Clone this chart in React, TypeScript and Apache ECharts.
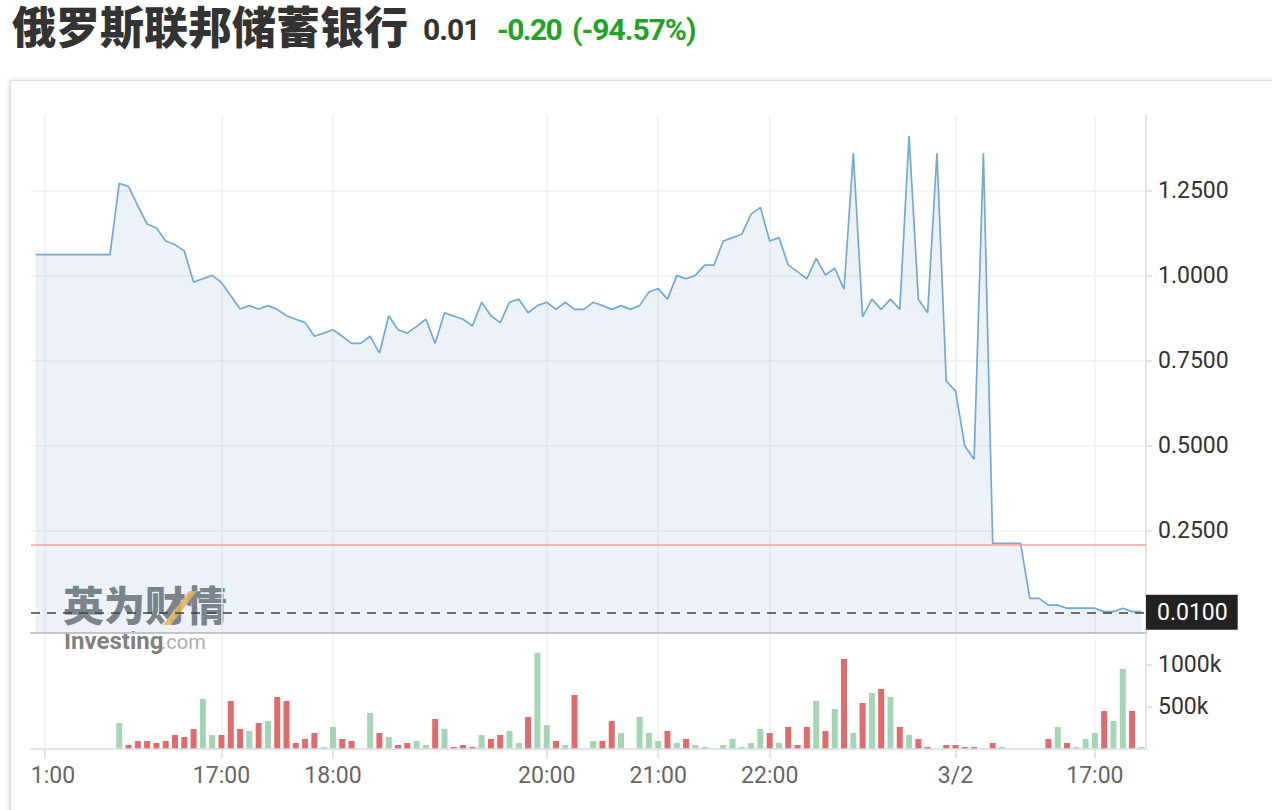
import React, { useEffect, useRef } from "react";
import * as echarts from "echarts";

// ---------- data ----------
const priceValues = [
  1.062, 1.062, 1.062, 1.062, 1.062, 1.062, 1.062, 1.062, 1.062, 1.272,
  1.262, 1.205, 1.152, 1.14, 1.102, 1.091, 1.073, 0.981, 0.991, 1.001,
  0.98, 0.941, 0.902, 0.912, 0.902, 0.912, 0.901, 0.882, 0.872, 0.862,
  0.822, 0.831, 0.841, 0.822, 0.801, 0.801, 0.822, 0.772, 0.882, 0.841,
  0.831, 0.851, 0.872, 0.801, 0.891, 0.881, 0.872, 0.852, 0.922, 0.882,
  0.862, 0.922, 0.931, 0.891, 0.912, 0.922, 0.901, 0.922, 0.901, 0.901,
  0.922, 0.912, 0.901, 0.912, 0.901, 0.912, 0.952, 0.962, 0.931, 1.001,
  0.991, 1.001, 1.031, 1.031, 1.102, 1.112, 1.122, 1.181, 1.201, 1.102,
  1.112, 1.031, 1.012, 0.991, 1.051, 1.002, 1.022, 0.96, 1.36, 0.879,
  0.931, 0.901, 0.931, 0.901, 1.411, 0.931, 0.891, 1.36, 0.69, 0.661,
  0.499, 0.46, 1.36, 0.213, 0.213, 0.213, 0.213, 0.051, 0.051, 0.031,
  0.031, 0.022, 0.022, 0.022, 0.022, 0.012, 0.012, 0.022, 0.012, 0.012,
];

const volumeValues = [
  0, 0, 0, 0, 0, 0, 0, 0, 0, 301000,
  39000, 87000, 87000, 63000, 87000, 158000, 135000, 230000, 587000, 158000,
  158000, 563000, 230000, 206000, 301000, 325000, 611000, 563000, 63000, 111000,
  182000, 15000, 254000, 111000, 87000, 0, 420000, 182000, 135000, 39000,
  63000, 87000, 39000, 349000, 230000, 15000, 39000, 15000, 158000, 111000,
  158000, 206000, 63000, 373000, 1134000, 277000, 87000, 39000, 635000, 0,
  87000, 87000, 325000, 182000, 0, 373000, 182000, 87000, 206000, 63000,
  111000, 39000, 15000, 0, 39000, 111000, 15000, 63000, 230000, 182000,
  63000, 254000, 39000, 254000, 563000, 206000, 468000, 1063000, 182000, 539000,
  658000, 706000, 611000, 254000, 158000, 111000, 15000, 0, 39000, 39000,
  15000, 15000, 0, 63000, 15000, 0, 0, 0, 0, 111000,
  254000, 63000, 15000, 111000, 182000, 444000, 325000, 944000, 444000, 15000,
];

// 1 = up (green), 0 = down (red)
const volumeUp = [
  0, 0, 0, 0, 0, 0, 0, 0, 0, 1,
  0, 0, 0, 0, 0, 0, 0, 0, 1, 1,
  0, 0, 0, 1, 0, 1, 0, 0, 0, 0,
  0, 1, 1, 0, 0, 0, 1, 0, 1, 0,
  0, 1, 1, 0, 1, 0, 0, 0, 1, 0,
  0, 1, 1, 0, 1, 1, 0, 1, 0, 0,
  1, 0, 0, 1, 0, 1, 1, 1, 0, 1,
  0, 1, 1, 0, 1, 1, 1, 1, 1, 0,
  1, 0, 0, 0, 1, 0, 1, 0, 1, 0,
  1, 0, 1, 0, 1, 0, 0, 0, 0, 0,
  0, 0, 0, 0, 1, 0, 0, 0, 0, 0,
  1, 0, 1, 1, 1, 0, 1, 1, 0, 1,
];

const categories = priceValues.map((_, i) => String(i));

const tickIndex = [1, 20, 32, 55, 67, 79, 99, 114];
const tickText = ["1:00", "17:00", "18:00", "20:00", "21:00", "22:00", "3/2", "17:00"];

const prevClose = 0.2118;
const lastPrice = 0.0115;
const lastPriceLabel = "0.0100";

const titleName = "俄罗斯联邦储蓄银行";
const titlePrice = "0.01";
const titleChange = "-0.20";
const titlePct = "(-94.57%)";

const watermarkCn = "英为财情";
const watermarkEn = "Investing";
const watermarkCom = ".com";

// ---------- component ----------
const FONT = "Roboto, 'Noto Sans', sans-serif";
const GREEN_BAR = "#a6d5b6";
const RED_BAR = "#df6c6c";
const GREEN_TXT = "#22a327";

export default function App() {
  const ref = useRef<HTMLDivElement>(null);

  useEffect(() => {
    document.body.style.margin = "0";
    if (!ref.current) return;
    const chart = echarts.init(ref.current, undefined, { renderer: "svg" });

    const showTick = (i: number) => tickIndex.includes(i);
    const L = 31;
    const R = 126;
    const gridLine = { color: "#f0f1f3", width: 1.5 };
    const axisGray = "#e0e3e8";

    const option: any = {
      animation: false,
      grid: [
        { left: L, right: R, top: 35, height: 517.7, outerBoundsMode: "none" },
        { left: L, right: R, top: 35, height: 500.7, outerBoundsMode: "none" },
        { left: L, right: R, top: 552.7, height: 115.6, outerBoundsMode: "none" },
      ],
      xAxis: [
        {
          gridIndex: 0,
          type: "category",
          data: categories,
          boundaryGap: true,
          axisLine: { show: true, onZero: false, lineStyle: { color: "#c8c8c8", width: 2 } },
          axisTick: { show: false },
          axisLabel: { show: false },
          splitLine: {
            show: true,
            interval: (i: number) => showTick(i),
            alignWithLabel: true,
            lineStyle: gridLine,
          },
        },
        {
          gridIndex: 1,
          type: "category",
          data: categories,
          show: false,
        },
        {
          gridIndex: 2,
          type: "category",
          data: categories,
          boundaryGap: true,
          axisLine: { show: true, onZero: false, lineStyle: { color: axisGray, width: 2 } },
          axisTick: {
            show: true,
            alignWithLabel: true,
            interval: (i: number) => showTick(i),
            length: 10,
            lineStyle: { color: axisGray, width: 2 },
          },
          axisLabel: {
            show: true,
            interval: (i: number) => showTick(i),
            formatter: (_v: string, i: number) => {
              const k = tickIndex.indexOf(i);
              if (k < 0) return "";
              return k === 0 ? "{s|" + tickText[k] + "}" : tickText[k];
            },
            color: "#666",
            fontSize: 23,
            fontFamily: FONT,
            margin: 16,
            rich: {
              s: { padding: [0, 0, 0, 16], color: "#666", fontSize: 23, fontFamily: FONT },
            },
          },
          splitLine: {
            show: true,
            interval: (i: number) => showTick(i),
            alignWithLabel: true,
            lineStyle: gridLine,
          },
        },
      ],
      yAxis: [
        {
          gridIndex: 0,
          type: "value",
          position: "right",
          min: -0.05,
          max: 1.4726,
          axisLine: { show: true, lineStyle: { color: axisGray, width: 2 } },
          axisTick: { show: false },
          axisLabel: { show: false },
          splitLine: { show: false },
        },
        {
          gridIndex: 1,
          type: "value",
          position: "right",
          min: 0,
          max: 1.4726,
          interval: 0.25,
          axisLine: { show: false },
          axisTick: { show: true, length: 6, lineStyle: { color: axisGray, width: 2 } },
          axisLabel: {
            show: true,
            showMinLabel: false,
            showMaxLabel: false,
            formatter: (v: number) => v.toFixed(4),
            color: "#333",
            fontSize: 23,
            fontFamily: FONT,
            margin: 12,
          },
          splitLine: { show: true, showMinLine: false, showMaxLine: false, lineStyle: gridLine },
        },
        {
          gridIndex: 2,
          type: "value",
          position: "right",
          min: 0,
          max: 1376000,
          interval: 500000,
          axisLine: { show: true, lineStyle: { color: axisGray, width: 2 } },
          axisTick: { show: true, length: 6, lineStyle: { color: axisGray, width: 2 } },
          axisLabel: {
            show: true,
            showMinLabel: false,
            showMaxLabel: false,
            formatter: (v: number) => v / 1000 + "k",
            color: "#333",
            fontSize: 23,
            fontFamily: FONT,
            margin: 12,
          },
          splitLine: { show: false },
        },
      ],
      graphic: [
        {
          type: "group",
          z: 1,
          children: [
            {
              type: "text",
              x: 63,
              y: 505,
              style: {
                text: watermarkCn,
                fontSize: 41,
                lineHeight: 36,
                fontWeight: 900,
                fontFamily: "'Noto Sans CJK SC'",
                fill: "rgba(100,104,109,0.85)",
              },
            },
            {
              type: "polygon",
              shape: { points: [[163, 545], [171, 545], [197, 511], [189, 511]] },
              style: { fill: "rgba(245,180,80,0.85)" },
            },
            {
              type: "text",
              x: 64,
              y: 552,
              style: {
                text: watermarkEn,
                fontSize: 24,
                lineHeight: 18,
                fontWeight: 700,
                fontFamily: FONT,
                fill: "rgba(110,112,116,0.9)",
              },
            },
            {
              type: "text",
              x: 161,
              y: 554,
              style: {
                text: watermarkCom,
                fontSize: 20,
                lineHeight: 16,
                fontFamily: FONT,
                fill: "rgba(160,162,166,0.9)",
              },
            },
          ],
        },
      ],
      series: [
        {
          type: "line",
          xAxisIndex: 0,
          yAxisIndex: 0,
          data: priceValues,
          symbol: "none",
          lineStyle: { color: "#73a9d5", width: 1.7 },
          areaStyle: { color: "rgba(120,160,200,0.2)", origin: "start" },
          z: 3,
          markLine: {
            silent: true,
            symbol: ["none", "none"],
            z: 4,
            data: [
              {
                yAxis: prevClose,
                lineStyle: { color: "#f4a3a3", type: "solid", width: 1.5 },
                label: { show: false },
              },
              {
                yAxis: lastPrice,
                lineStyle: { color: "#3c4146", type: [9, 7], width: 1.6 },
                label: {
                  show: true,
                  position: "end",
                  distance: 0,
                  formatter: lastPriceLabel,
                  backgroundColor: "#222",
                  color: "#fff",
                  fontSize: 23,
                  fontFamily: FONT,
                  padding: [6, 10, 6, 11],
                },
              },
            ],
          },
        },
        {
          type: "bar",
          xAxisIndex: 2,
          yAxisIndex: 2,
          barWidth: 6,
          data: volumeValues.map((v, i) => ({
            value: v,
            itemStyle: { color: volumeUp[i] ? GREEN_BAR : RED_BAR },
          })),
        },
      ],
    };

    chart.setOption(option);
    return () => chart.dispose();
  }, []);

  const num = {
    position: "absolute" as const,
    top: 15,
    height: 30,
    fontFamily: FONT,
    fontWeight: 700,
    fontSize: 30,
    lineHeight: "30px",
    letterSpacing: -1,
    whiteSpace: "nowrap" as const,
  };

  return (
    <div style={{ position: "relative", width: 1272, height: 810, overflow: "hidden", background: "#fff" }}>
      <div
        style={{
          position: "absolute",
          left: 12,
          top: 3,
          height: 44,
          fontFamily: "'Noto Sans CJK SC', sans-serif",
          fontWeight: 900,
          fontSize: 44,
          lineHeight: "44px",
          color: "#333",
          whiteSpace: "nowrap",
        }}
      >
        {titleName}
      </div>
      <div style={{ ...num, left: 423, color: "#333" }}>{titlePrice}</div>
      <div style={{ ...num, left: 497, color: GREEN_TXT, letterSpacing: -1.6 }}>{titleChange}</div>
      <div style={{ ...num, left: 572, color: GREEN_TXT }}>{titlePct}</div>
      <div
        style={{
          position: "absolute",
          left: 10,
          top: 80,
          width: 1300,
          height: 800,
          border: "1px solid #dcdcdc",
          boxShadow: "0 1px 6px rgba(0,0,0,0.18)",
          background: "#fff",
        }}
      />
      <div ref={ref} style={{ position: "absolute", left: 0, top: 80, width: 1272, height: 730 }} />
    </div>
  );
}
